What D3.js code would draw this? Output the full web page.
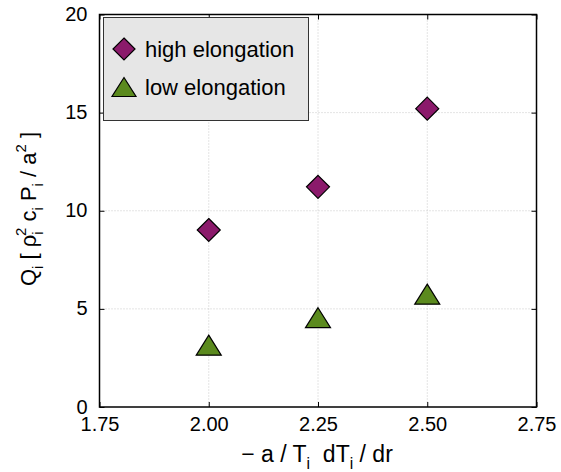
<!DOCTYPE html>
<html><head><meta charset="utf-8">
<script src="https://cdn.jsdelivr.net/npm/d3@7"></script>
<style>body{margin:0;background:#fff}svg{display:block}text{font-family:"Liberation Sans",Arial,Helvetica,sans-serif;fill:#000}</style>
</head><body><svg id="c" width="561" height="472"></svg>
<script>
const xValues = [2.00, 2.25, 2.50];
const highElongation = [9.02, 11.22, 15.2];
const lowElongation = [3.15, 4.55, 5.75];
const xTicks = [1.75, 2.00, 2.25, 2.50, 2.75];
const yTicks = [0, 5, 10, 15, 20];
const seriesNames = ["high elongation", "low elongation"];

const svg = d3.select("#c");
const L = 99.5, R = 536.5, T = 14.5, B = 407;
const x = d3.scaleLinear().domain([1.75, 2.75]).range([L, R]);
const y = d3.scaleLinear().domain([0, 20]).range([B, T]);

// grid
const g = svg.append("g");
g.selectAll(".gx").data(xTicks.slice(1, -1)).join("line")
  .attr("x1", d => x(d)).attr("x2", d => x(d)).attr("y1", T).attr("y2", B)
  .attr("stroke", "#c8c8c8").attr("stroke-dasharray", "1,2").attr("stroke-width", 1);
g.selectAll(".gy").data(yTicks.slice(1, -1)).join("line")
  .attr("y1", d => y(d)).attr("y2", d => y(d)).attr("x1", L).attr("x2", R)
  .attr("stroke", "#c8c8c8").attr("stroke-dasharray", "1,2").attr("stroke-width", 1);

// axes
const fmtX = d3.format(".2f");
const ax = svg.append("g").attr("transform", `translate(0,${B})`)
  .call(d3.axisBottom(x).tickValues(xTicks).tickFormat(fmtX).tickSizeInner(-5).tickSizeOuter(0).tickPadding(10));
const ay = svg.append("g").attr("transform", `translate(${L},0)`)
  .call(d3.axisLeft(y).tickValues(yTicks).tickSizeInner(-5).tickSizeOuter(0).tickPadding(12));
const axT = svg.append("g").attr("transform", `translate(0,${T})`)
  .call(d3.axisTop(x).tickValues(xTicks).tickFormat("").tickSizeInner(-5).tickSizeOuter(0));
const ayR = svg.append("g").attr("transform", `translate(${R},0)`)
  .call(d3.axisRight(y).tickValues(yTicks).tickFormat("").tickSizeInner(-5).tickSizeOuter(0));
[ax, ay, axT, ayR].forEach(a => {
  a.select(".domain").remove();
  a.selectAll("line").attr("stroke", "#000").attr("stroke-width", 1);
  a.selectAll("text").style("font-size", "20px").style("font-family", '"Liberation Sans",Arial,sans-serif');
});
ax.selectAll("text").attr("dy", "0.71em");
ay.selectAll("text").attr("dy", "0.3em");

svg.append("rect").attr("x", L).attr("y", T).attr("width", R - L).attr("height", B - T)
  .attr("fill", "none").attr("stroke", "#000").attr("stroke-width", 1.5);

// markers
const diamond = s => `M0,${-s}L${s},0L0,${s}L${-s},0Z`;
const tri = (w, h) => `M0,${-h/2}L${w/2},${h/2}L${-w/2},${h/2}Z`;
const purple = "#8b1a6b", green = "#5b8a1e";
svg.append("g").selectAll("path").data(xValues.map((v, i) => [v, highElongation[i]])).join("path")
  .attr("d", diamond(11.5)).attr("transform", d => `translate(${x(d[0])},${y(d[1])})`)
  .attr("fill", purple).attr("stroke", "#000").attr("stroke-width", 1.2);
svg.append("g").selectAll("path").data(xValues.map((v, i) => [v, lowElongation[i]])).join("path")
  .attr("d", tri(25, 20)).attr("transform", d => `translate(${x(d[0])},${y(d[1])})`)
  .attr("fill", green).attr("stroke", "#000").attr("stroke-width", 1.2);

// legend
const lg = svg.append("g");
lg.append("rect").attr("x", 103.5).attr("y", 17.5).attr("width", 205).attr("height", 103)
  .attr("fill", "#e6e6e6").attr("stroke", "#333").attr("stroke-width", 1);
lg.append("path").attr("d", diamond(11)).attr("transform", "translate(124,49)")
  .attr("fill", purple).attr("stroke", "#000").attr("stroke-width", 1.2);
lg.append("path").attr("d", tri(24, 19)).attr("transform", "translate(124,87)")
  .attr("fill", green).attr("stroke", "#000").attr("stroke-width", 1.2);
lg.append("text").attr("x", 145).attr("y", 56.5).style("font-size", "22px").text(seriesNames[0]);
lg.append("text").attr("x", 145).attr("y", 94.5).style("font-size", "22px").text(seriesNames[1]);

// rich text helper
function rich(sel, parts, base) {
  let shift = 0;
  parts.forEach(p => {
    const ts = sel.append("tspan").text(p.t);
    let target = 0, fs = base;
    if (p.k === "sub") { target = 0.3 * base; fs = base * 0.68; }
    if (p.k === "sup") { target = -0.45 * base; fs = base * 0.68; }
    ts.attr("dy", target - shift).style("font-size", fs + "px");
    if (p.dx) ts.attr("dx", p.dx);
    shift = target;
  });
}

// x label
const xl = svg.append("text").attr("x", 317).attr("y", 462).attr("text-anchor", "middle")
  .attr("xml:space", "preserve");
rich(xl, [{t: "\u2212 a / T"}, {t: "i", k: "sub"}, {t: "  dT"}, {t: "i", k: "sub"}, {t: " / dr"}], 23);

// y label
const yl = svg.append("text").attr("transform", "translate(36,209) rotate(-90)").attr("text-anchor", "middle")
  .attr("xml:space", "preserve");
rich(yl, [{t: "Q"}, {t: "i", k: "sub"}, {t: " [ \u03c1"}, {t: "i", k: "sub"}, {t: "2", k: "sup", dx: -4.5},
  {t: " c"}, {t: "i", k: "sub"}, {t: " P"}, {t: "i", k: "sub"}, {t: " / a"}, {t: "2", k: "sup"}, {t: " ]"}], 22);
</script></body></html>
